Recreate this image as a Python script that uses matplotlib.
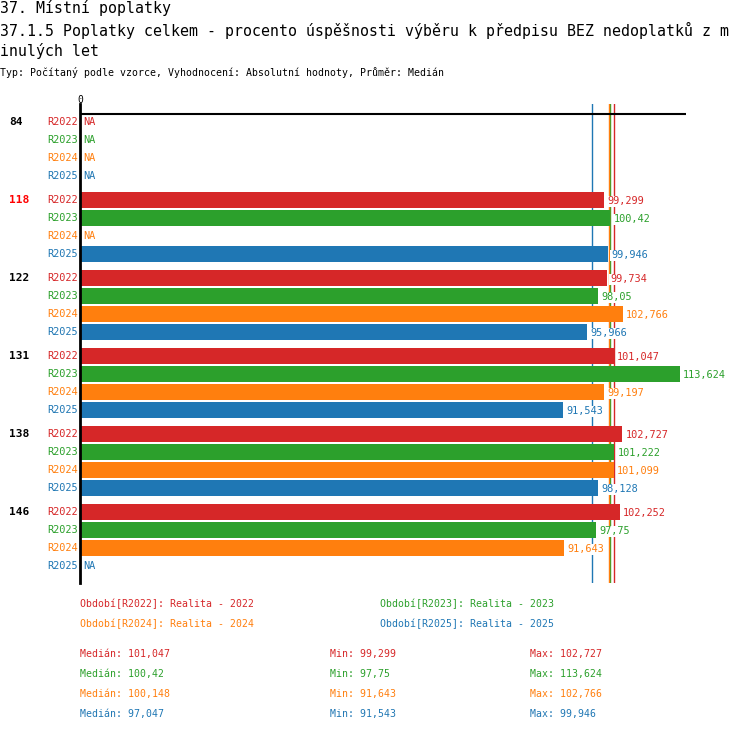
import numpy as np
import matplotlib
matplotlib.use('Agg')
import matplotlib.pyplot as plt

plt.rcParams['font.family'] = ['DejaVu Sans Mono']

# data
groups = ['84', '118', '122', '131', '138', '146']
highlight = '118'
series = ['R2022', 'R2023', 'R2024', 'R2025']
colors = ['#d62728', '#2ca02c', '#ff7f0e', '#1f77b4']
nan = np.nan
r2022 = [nan, 99.299, 99.734, 101.047, 102.727, 102.252]
r2023 = [nan, 100.42, 98.05, 113.624, 101.222, 97.75]
r2024 = [nan, nan, 102.766, 99.197, 101.099, 91.643]
r2025 = [nan, 99.946, 95.966, 91.543, 98.128, nan]
legend_labels = ['Období[R2022]: Realita - 2022', 'Období[R2023]: Realita - 2023',
                 'Období[R2024]: Realita - 2024', 'Období[R2025]: Realita - 2025']
title1 = '37. Místní poplatky'
title2 = '37.1.5 Poplatky celkem - procento úspěšnosti výběru k předpisu BEZ nedoplatků z m'
title3 = 'inulých let'
subtitle = 'Typ: Počítaný podle vzorce, Vyhodnocení: Absolutní hodnoty, Průměr: Medián'

values = [r2022, r2023, r2024, r2025]

W, H = 750, 732
fig = plt.figure(figsize=(W/100, H/100), dpi=100)

def fy(py):
  return 1 - py/H

# axes placed in pixels: zero at x=80, 5.28 px per unit
ppu = 5.28
ax_l, ax_r, ax_t, ax_b = 80, 686, 104, 583
ax = fig.add_axes([ax_l/W, fy(ax_b), (ax_r-ax_l)/W, (ax_b-ax_t)/H])
row_px = 18.0
group_rows = 78/row_px
first_row = 122
ax.set_xlim(0, (ax_r-ax_l)/ppu)
ax.set_ylim((ax_b-first_row)/row_px, (ax_t-first_row)/row_px)
for s in ['top', 'right', 'bottom']:
  ax.spines[s].set_visible(False)
ax.spines['left'].set_linewidth(2)
ax.spines['left'].set_zorder(5)
ax.set_xticks([])
ax.set_yticks([])
ax.axhline((114-first_row)/row_px, color='black', lw=1.5, zorder=3)

# median lines (under bars and labels)
meds = [np.nanmedian(v) for v in values]
for m, c in zip(meds, colors):
  ax.axvline(m, color=c, lw=1, zorder=1)

fs = 7.4
for si, (name, vals, c) in enumerate(zip(series, values, colors)):
  for gi, v in enumerate(vals):
    y = gi*group_rows + si
    ax.text(-0.4, y, name, color=c, ha='right', va='center', fontsize=fs)
    if np.isnan(v):
      ax.text(0.6, y, 'NA', color=c, ha='left', va='center', fontsize=fs,
              bbox=dict(facecolor='white', edgecolor='none', pad=0.5), zorder=4)
      continue
    ax.barh(y, v, height=16/row_px, color=c, left=0, zorder=2)
    lab = ('%g' % v).replace('.', ',')
    ax.annotate(lab, (v, y), xytext=(2.4, -1), textcoords='offset points',
                color=c, ha='left', va='center', fontsize=fs, zorder=4,
                bbox=dict(facecolor='white', edgecolor='none', pad=0.5))

# group labels, left aligned at x=9px
for gi, g in enumerate(groups):
  ax.text(-71/ppu, gi*group_rows, g, color='red' if g == highlight else 'black',
          ha='left', va='center', fontsize=8, fontweight='bold')

ax.text(0, (100-first_row)/row_px, '0', ha='center', va='center', fontsize=7, clip_on=False)

# titles
fig.text(0, fy(8), title1, fontsize=10.7, va='center', ha='left')
fig.text(0, fy(30), title2, fontsize=10.7, va='center', ha='left')
fig.text(0, fy(51), title3, fontsize=10.7, va='center', ha='left')
fig.text(0, fy(73), subtitle, fontsize=7.1, va='center', ha='left')

# legend
leg_pos = [(80, 604), (380, 604), (80, 624), (380, 624)]
for (px, py), lab, c in zip(leg_pos, legend_labels, colors):
  fig.text(px/W, fy(py), lab, color=c, fontsize=7.1, va='center')

# stats
f = lambda x: ('%g' % round(x, 3)).replace('.', ',')
for i, (vals, c) in enumerate(zip(values, colors)):
  py = 654 + 20*i
  fig.text(80/W, fy(py), 'Medián: ' + f(np.nanmedian(vals)), color=c, fontsize=7.1, va='center')
  fig.text(330/W, fy(py), 'Min: ' + f(np.nanmin(vals)), color=c, fontsize=7.1, va='center')
  fig.text(530/W, fy(py), 'Max: ' + f(np.nanmax(vals)), color=c, fontsize=7.1, va='center')

fig.savefig('out.png', dpi=100)
